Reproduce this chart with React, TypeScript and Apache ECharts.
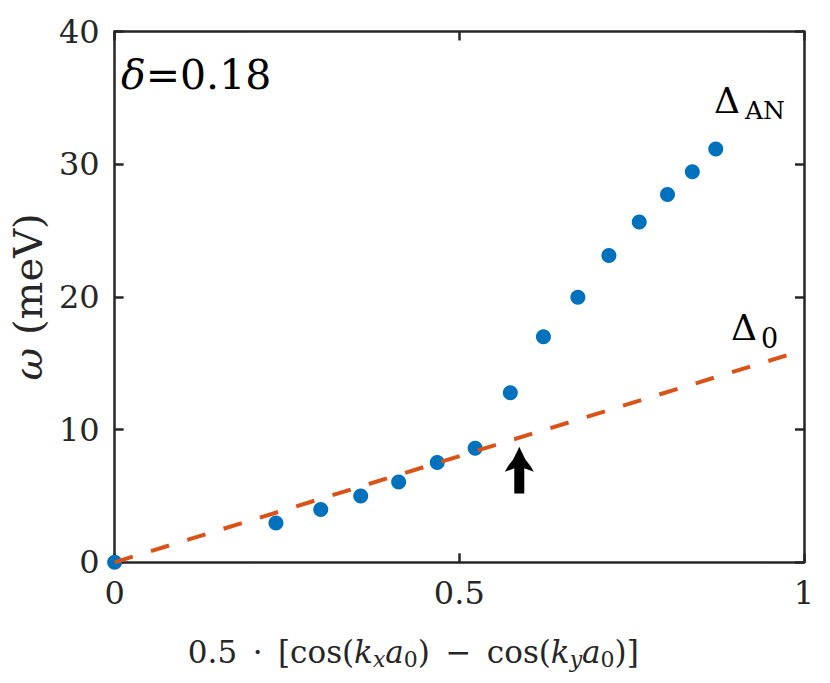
import React, { useEffect, useRef } from "react";
import * as echarts from "echarts";

// Data
const kValues = [0, 0.234, 0.299, 0.357, 0.412, 0.468, 0.523, 0.574, 0.622, 0.672, 0.717, 0.761, 0.802, 0.838, 0.872];
const omegaAN = [0, 2.97, 3.97, 5.0, 6.06, 7.52, 8.6, 12.78, 17.0, 19.97, 23.12, 25.64, 27.72, 29.43, 31.15];
const gapLineK = [0, 1];
const gapLineOmega = [0, 16];
const arrowK = [0.587];
const arrowFrom = [5.18];
const arrowTo = [8.7];
const xTicks = [0, 0.5, 1];
const yTicks = [0, 10, 20, 30, 40];

const FONT = "DejaVu Serif";
const AXIS = "#262626";

export default function App() {
  const ref = useRef<HTMLDivElement>(null);
  useEffect(() => {
    if (!ref.current) return;
    const chart = echarts.init(ref.current, null, { renderer: "svg" });
    const xMin = xTicks[0], xMax = xTicks[xTicks.length - 1], xInt = xTicks[1] - xTicks[0];
    const yMin = yTicks[0], yMax = yTicks[yTicks.length - 1], yInt = yTicks[1] - yTicks[0];
    const axisCommon = {
      type: "value" as const,
      splitLine: { show: false },
      axisLine: { show: true, onZero: false, lineStyle: { color: AXIS, width: 2.5 } },
      axisTick: { show: true, inside: true, length: 9, lineStyle: { color: AXIS, width: 2.5 } },
    };
    const option: any = {
      animation: false,
      backgroundColor: "#ffffff",
      grid: { left: 114, right: 26, top: 31.5, bottom: 120.7, containLabel: false },
      xAxis: [
        {
          ...axisCommon,
          min: xMin, max: xMax, interval: xInt,
          position: "bottom",
          axisLabel: { color: AXIS, fontFamily: FONT, fontSize: 32, margin: 15, formatter: (v: number) => String(v) },
          name: "0.5\u2002·\u2002[cos({i|k}{s|x}{i|a}{n|0})\u2002−\u2002cos({i|k}{s|y}{i|a}{n|0})]",
          nameLocation: "middle",
          nameGap: 72,
          nameTextStyle: {
            color: AXIS, fontFamily: FONT, fontSize: 31, padding: [0, 92, 0, 0], lineHeight: 36,
            rich: {
              i: { fontFamily: FONT, fontSize: 31, fontStyle: "italic", color: AXIS, lineHeight: 36 },
              s: { fontFamily: FONT, fontSize: 22, fontStyle: "italic", color: AXIS, lineHeight: 20, verticalAlign: "bottom" },
              n: { fontFamily: FONT, fontSize: 22, color: AXIS, lineHeight: 20, verticalAlign: "bottom" },
            },
          },
        },
        {
          ...axisCommon,
          min: xMin, max: xMax, interval: xInt,
          position: "top",
          axisLabel: { show: false },
        },
      ],
      yAxis: [
        {
          ...axisCommon,
          min: yMin, max: yMax, interval: yInt,
          position: "left",
          axisLabel: { color: AXIS, fontFamily: FONT, fontSize: 32, margin: 15 },
          name: "{i|ω} (meV)",
          nameLocation: "middle",
          nameGap: 58,
          nameRotate: 90,
          nameTextStyle: {
            color: AXIS, fontFamily: FONT, fontSize: 40,
            rich: { i: { fontFamily: FONT, fontSize: 40, fontStyle: "italic", color: AXIS } },
          },
        },
        {
          ...axisCommon,
          min: yMin, max: yMax, interval: yInt,
          position: "right",
          axisLabel: { show: false },
        },
      ],
      series: [
        {
          type: "scatter",
          data: kValues.map((k, i) => [k, omegaAN[i]]),
          symbol: "circle",
          symbolSize: 15,
          itemStyle: { color: "#0072BD", opacity: 1 },
          clip: false,
          z: 2,
        },
        {
          type: "line",
          data: gapLineK.map((k, i) => [k, gapLineOmega[i]]),
          showSymbol: false,
          symbol: "none",
          lineStyle: { color: "#D95319", width: 4, type: [19, 19], cap: "butt", opacity: 1 },
          clip: false,
          z: 3,
        },
        {
          type: "custom",
          data: arrowK.map((k, i) => [k, arrowFrom[i], arrowTo[i]]),
          clip: false,
          z: 4,
          renderItem: (params: any, api: any) => {
            const base = api.coord([api.value(0), api.value(1)]);
            const tip = api.coord([api.value(0), api.value(2)]);
            const tx = tip[0], ty = tip[1], by = base[1];
            const half = [
              [2.8, 6], [6.3, 13], [11, 19], [14.5, 25], [5, 21.5],
            ];
            const pts: number[][] = [[tx, ty]];
            half.forEach(([dx, dy]) => pts.push([tx + dx, ty + dy]));
            pts.push([tx + 5, by], [tx - 5, by]);
            half.slice().reverse().forEach(([dx, dy]) => pts.push([tx - dx, ty + dy]));
            return { type: "polygon", shape: { points: pts }, style: { fill: "#000000" } };
          },
        },
      ],
      graphic: [
        {
          type: "text", x: 121, y: 75,
          style: {
            text: "{i|δ}{n|=0.18}", fill: "#000", fontFamily: FONT, fontSize: 41, verticalAlign: "middle",
            rich: {
              i: { fontFamily: FONT, fontSize: 41, fontStyle: "italic", fill: "#000" },
              n: { fontFamily: FONT, fontSize: 41, fill: "#000" },
            },
          },
        },
        { type: "text", x: 714, y: 100, style: { text: "Δ", fill: "#000", fontFamily: FONT, fontSize: 36, verticalAlign: "middle" } },
        { type: "text", x: 745, y: 110, style: { text: "AN", fill: "#000", fontFamily: FONT, fontSize: 25, verticalAlign: "middle" } },
        { type: "text", x: 731, y: 327, style: { text: "Δ", fill: "#000", fontFamily: FONT, fontSize: 36, verticalAlign: "middle" } },
        { type: "text", x: 761, y: 338, style: { text: "0", fill: "#000", fontFamily: FONT, fontSize: 27, verticalAlign: "middle" } },
      ],
    };
    chart.setOption(option);
    return () => chart.dispose();
  }, []);
  return (
    <div
      ref={ref}
      style={{ position: "fixed", left: 0, top: 0, width: 830, height: 683, background: "#fff" }}
    />
  );
}
